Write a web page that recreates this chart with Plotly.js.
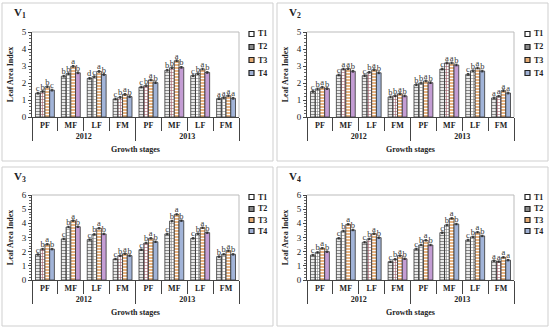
<!DOCTYPE html>
<html>
<head>
<meta charset="utf-8">
<script src="https://cdn.plot.ly/plotly-3.0.1.min.js"></script>
<style>html,body{margin:0;padding:0;background:#fff}#chart{width:550px;height:329px}</style>
</head>
<body>
<div id="chart"></div>
<script>
// ---------- DATA ----------
const stages = ['PF','MF','LF','FM','PF','MF','LF','FM'];
const years  = ['2012','2012','2012','2012','2013','2013','2013','2013'];
const seriesNames = ['T1','T2','T3','T4'];
const panelNames = ['V<sub>1</sub>','V<sub>2</sub>','V<sub>3</sub>','V<sub>4</sub>'];

const v1T1 = [1.40, 2.40, 2.27, 1.06, 1.76, 2.75, 2.43, 1.08];
const v1T2 = [1.50, 2.55, 2.37, 1.16, 1.84, 2.90, 2.55, 1.14];
const v1T3 = [1.78, 2.98, 2.68, 1.33, 2.18, 3.31, 2.82, 1.25];
const v1T4 = [1.58, 2.60, 2.50, 1.20, 2.02, 2.92, 2.62, 1.10];

const v2T1 = [1.50, 2.47, 2.43, 1.18, 1.90, 2.82, 2.51, 1.12];
const v2T2 = [1.65, 2.82, 2.63, 1.25, 2.00, 3.18, 2.72, 1.22];
const v2T3 = [1.75, 2.84, 2.78, 1.37, 2.12, 3.18, 2.88, 1.55];
const v2T4 = [1.67, 2.69, 2.60, 1.24, 2.02, 3.06, 2.70, 1.41];

const v3T1 = [1.80, 2.90, 2.85, 1.48, 2.14, 3.25, 2.94, 1.65];
const v3T2 = [2.18, 3.74, 3.22, 1.72, 2.61, 4.16, 3.27, 1.81];
const v3T3 = [2.52, 4.19, 3.65, 1.86, 2.94, 4.63, 3.69, 2.07];
const v3T4 = [2.18, 3.76, 3.25, 1.72, 2.70, 4.19, 3.34, 1.81];

const v4T1 = [1.76, 2.94, 2.66, 1.29, 2.19, 3.34, 2.82, 1.36];
const v4T2 = [1.95, 3.46, 2.90, 1.46, 2.47, 3.88, 3.04, 1.30];
const v4T3 = [2.24, 3.93, 3.27, 1.72, 2.80, 4.35, 3.37, 1.60];
const v4T4 = [2.00, 3.53, 2.99, 1.50, 2.47, 3.95, 3.11, 1.40];

const v1L1 = ['c','b','d','c','c','b','c','a'];
const v1L2 = ['b','b','c','b','b','b','b','a'];
const v1L3 = ['b','a','a','a','a','a','a','a'];
const v1L4 = ['c','b','b','b','b','b','b','a'];

const v2L1 = ['c','c','c','b','b','c','c','a'];
const v2L2 = ['b','a','b','b','b','a','b','a'];
const v2L3 = ['a','a','a','a','a','a','a','a'];
const v2L4 = ['b','b','b','b','b','b','b','a'];

const v3L1 = ['c','c','c','c','c','c','c','b'];
const v3L2 = ['b','b','b','b','b','b','b','b'];
const v3L3 = ['a','a','a','a','a','a','a','a'];
const v3L4 = ['b','b','b','b','b','b','b','b'];

const v4L1 = ['c','c','c','c','c','c','c','a'];
const v4L2 = ['b','b','b','b','b','b','b','a'];
const v4L3 = ['a','a','a','a','a','a','a','a'];
const v4L4 = ['b','b','b','b','b','b','b','a'];

const errVal = [0.05, 0.05, 0.05, 0.05, 0.05, 0.05, 0.05, 0.05];

const yMax = [5, 5, 6, 6];

// ---------- STYLE ----------
const M = '#9c5a66', G = '#7d7d7d', P = '#c49dd4', B = '#a2b4d8';
const t2Colors = [
  [M,G,G,M,M,M,G,G],
  [G,M,M,M,G,M,G,M],
  [M,G,G,M,M,G,G,G],
  [G,G,M,M,G,G,G,M]
];
const t4Colors = [
  [B,P,B,B,B,P,P,B],
  [P,P,B,P,P,P,B,B],
  [B,P,P,B,B,B,P,B],
  [P,B,B,P,P,B,B,B]
];
const legendFill = ['#ffffff', '#8a8a8a', '#e6ac74', '#9fb0d4'];

const values = [[v1T1,v1T2,v1T3,v1T4],[v2T1,v2T2,v2T3,v2T4],[v3T1,v3T2,v3T3,v3T4],[v4T1,v4T2,v4T3,v4T4]];
const letters = [[v1L1,v1L2,v1L3,v1L4],[v2L1,v2L2,v2L3,v2L4],[v3L1,v3L2,v3L3,v3L4],[v4L1,v4L2,v4L3,v4L4]];

const serif = 'Liberation Serif, Times New Roman, serif';

// panel geometry in pixels
const W = 550, H = 329;
const panels = [
  {x0:32, x1:239, y0:32, y1:117, fx0:2, fx1:273, fy0:3, fy1:161, lx:249, ly:[34,47,60,73]},
  {x0:307, x1:514, y0:32, y1:117, fx0:277, fx1:548, fy0:3, fy1:161, lx:525, ly:[34,47,60,73]},
  {x0:32, x1:239, y0:195, y1:280, fx0:2, fx1:273, fy0:167, fy1:326, lx:249, ly:[197,209,220,231]},
  {x0:307, x1:514, y0:195, y1:280, fx0:277, fx1:548, fy0:167, fy1:326, lx:525, ly:[197,209,220,231]}
];

const traces = [];
const layout = {
  width: W, height: H,
  margin: {l:0, r:0, t:0, b:0},
  paper_bgcolor: '#fff', plot_bgcolor: '#fff',
  barmode: 'group', bargap: 0.27, bargroupgap: 0,
  font: {family: serif, color: '#222'},
  showlegend: false,
  shapes: [], annotations: []
};

function patternFor(s, p) {
  if (s === 0) return {shape:'-', fgcolor:'#8a8a8a', bgcolor:'#ffffff', size:3, solidity:0.45};
  if (s === 1) return {shape:'+', fgcolor:'#ffffff', bgcolor:t2Colors[p], size:3, solidity:0.35};
  if (s === 2) return {shape:'-', fgcolor:'#ffffff', bgcolor:'#e6ac74', size:3, solidity:0.4};
  return null;
}

for (let p = 0; p < 4; p++) {
  const g = panels[p];
  const sfx = p === 0 ? '' : String(p+1);
  const xa = 'x' + sfx, ya = 'y' + sfx;
  for (let s = 0; s < 4; s++) {
    const marker = {line: {color:'#333', width:0.8}};
    const pat = patternFor(s, p);
    if (pat) {
      marker.pattern = pat;
      marker.color = s === 1 ? t2Colors[p] : pat.bgcolor;
    } else {
      marker.color = t4Colors[p];
    }
    traces.push({
      type: 'bar',
      name: seriesNames[s],
      x: [years, stages],
      y: values[p][s],
      xaxis: xa, yaxis: ya,
      marker: marker,
      text: letters[p][s],
      textposition: 'outside',
      constraintext: 'none',
      cliponaxis: false,
      textfont: {family: serif, size: 8.5, color: '#333'},
      outsidetextfont: {family: serif, size: 8.5, color: '#333'},
      error_y: {type:'data', array: errVal, visible:true, color:'#222', thickness:0.8, width:1.2},
      hoverinfo: 'skip'
    });
  }
  const xKey = 'xaxis' + sfx, yKey = 'yaxis' + sfx;
  layout[xKey] = {
    type: 'multicategory',
    domain: [g.x0/W, g.x1/W],
    anchor: ya,
    showline: true, linecolor: '#444', linewidth: 1,
    ticks: 'outside', ticklen: 13, tickcolor: '#444', tickwidth: 1,
    showdividers: true, dividercolor: '#444', dividerwidth: 1,
    tickfont: {family: serif, size: 8, color: '#222', weight: 'bold'},
    showgrid: false, zeroline: false, fixedrange: true
  };
  layout[yKey] = {
    domain: [1 - g.y1/H, 1 - g.y0/H],
    anchor: xa,
    range: [0, yMax[p]],
    dtick: 1,
    showline: true, linecolor: '#444', linewidth: 1,
    ticks: 'outside', ticklen: 3, tickcolor: '#444',
    minor: {ticks: 'outside', ticklen: 2, dtick: 0.2, tickcolor: '#666'},
    tickfont: {family: serif, size: 9, color: '#222'},
    showgrid: false, zeroline: false,
    title: {text: 'Leaf Area Index', font: {family: serif, size: 8, color: '#222', weight: 'bold'}, standoff: 6},
    fixedrange: true
  };
  // panel frame
  layout.shapes.push({type:'rect', xref:'paper', yref:'paper',
    x0: g.fx0/W, x1: g.fx1/W, y0: 1 - g.fy1/H, y1: 1 - g.fy0/H,
    line: {color:'#cfcfcf', width:1}, fillcolor:'rgba(0,0,0,0)', layer:'below'});
  // plot area frame (top/right light)
  layout.shapes.push({type:'path', xref:'paper', yref:'paper',
    path: `M ${g.x0/W} ${1-g.y0/H} L ${g.x1/W} ${1-g.y0/H} L ${g.x1/W} ${1-g.y1/H}`,
    line: {color:'#bbbbbb', width:1}, layer:'below'});
  // legend (drawn as key boxes + labels)
  for (let s = 0; s < 4; s++) {
    const cy = g.ly[s];
    layout.shapes.push({type:'rect', xref:'paper', yref:'paper',
      x0: g.lx/W, x1: (g.lx+5)/W, y0: 1-(cy+2.5)/H, y1: 1-(cy-2.5)/H,
      line: {color:'#222', width:1.2}, fillcolor: legendFill[s]});
    layout.annotations.push({xref:'paper', yref:'paper', x: (g.lx+6.5)/W, y: 1-cy/H,
      xanchor:'left', yanchor:'middle', showarrow:false, text: seriesNames[s],
      font: {family: serif, size: 8, color:'#222', weight:'bold'}});
  }
  layout.annotations.push({xref:'paper', yref:'paper', x: (g.fx0+10)/W, y: 1-(g.fy0+10)/H,
    xanchor:'left', yanchor:'middle', showarrow:false, text: panelNames[p],
    font: {family: serif, size: 11, color:'#222', weight:'bold'}});
  layout.annotations.push({xref:'paper', yref:'paper', x: ((g.x0+g.x1)/2)/W, y: 1-(g.y1+32)/H,
    xanchor:'center', yanchor:'middle', showarrow:false, text: 'Growth stages',
    font: {family: serif, size: 8, color:'#222', weight:'bold'}});
}

Plotly.newPlot('chart', traces, layout, {staticPlot: true, displayModeBar: false});
</script>
</body>
</html>
